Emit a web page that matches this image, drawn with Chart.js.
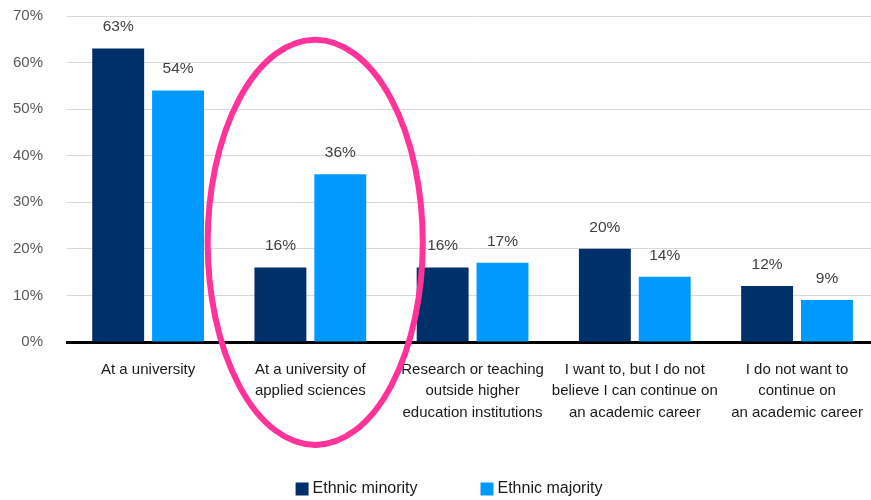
<!DOCTYPE html>
<html>
<head>
<meta charset="utf-8">
<script src="https://cdn.jsdelivr.net/npm/chart.js@4/dist/chart.umd.min.js"></script>
<style>
  html, body { margin: 0; padding: 0; background: #ffffff; overflow: hidden; }
  #wrap { width: 880px; height: 500px; }
</style>
</head>
<body>
<div id="wrap"><canvas id="chart" width="880" height="500"></canvas></div>
<script>
// Career plans after the doctorate, by ethnic background (% of respondents)
const categories = [
  ["At a university"],
  ["At a university of", "applied sciences"],
  ["Research or teaching", "outside higher", "education institutions"],
  ["I want to, but I do not", "believe I can continue on", "an academic career"],
  ["I do not want to", "continue on", "an academic career"]
];
const ethnicMinority = [63, 16, 16, 20, 12];
const ethnicMajority = [54, 36, 17, 14, 9];
const seriesNames = ["Ethnic minority", "Ethnic majority"];
const yTicks = [0, 10, 20, 30, 40, 50, 60, 70];

// highlighted group: category index, value range and half-width in category units
const highlight = { index: 1, shift: 0.03, halfWidth: 0.663, from: -22.1, to: 64.9 };

const FONT = "'Liberation Sans', Arial, sans-serif";

const valueLabels = {
  id: 'valueLabels',
  afterDatasetsDraw(chart) {
    const ctx = chart.ctx;
    ctx.save();
    ctx.font = '15.5px ' + FONT;
    ctx.fillStyle = '#404040';
    ctx.textAlign = 'center';
    ctx.textBaseline = 'middle';
    chart.data.datasets.forEach((ds, di) => {
      const meta = chart.getDatasetMeta(di);
      meta.data.forEach((bar, i) => {
        ctx.fillText(ds.data[i] + '%', bar.x, bar.y - 21.5);
      });
    });
    ctx.restore();
  }
};

// legend row under the axis labels, built from the datasets
const bottomLegend = {
  id: 'bottomLegend',
  afterDraw(chart) {
    const ctx = chart.ctx;
    const box = 13, textGap = 4, itemGap = 63;
    ctx.save();
    ctx.font = '16px ' + FONT;
    ctx.textBaseline = 'middle';
    ctx.textAlign = 'left';
    const items = chart.data.datasets.map(ds => ({
      text: ds.label, color: ds.backgroundColor,
      w: box + textGap + ctx.measureText(ds.label).width
    }));
    const total = items.reduce((s, it) => s + it.w, 0) + itemGap * (items.length - 1);
    let x = 449 - total / 2;
    const y = 489;
    items.forEach(it => {
      ctx.fillStyle = it.color;
      ctx.fillRect(x, y - box / 2, box, box);
      ctx.fillStyle = '#1a1a1a';
      ctx.fillText(it.text, x + box + textGap, y);
      x += it.w + itemGap;
    });
    ctx.restore();
  }
};

const highlightRing = {
  id: 'highlightRing',
  afterDraw(chart) {
    const xs = chart.scales.x, ys = chart.scales.y;
    const step = xs.getPixelForValue(1) - xs.getPixelForValue(0);
    const cx = xs.getPixelForValue(highlight.index) + highlight.shift * step;
    const rx = highlight.halfWidth * step;
    const top = ys.getPixelForValue(highlight.to);
    const bottom = ys.getPixelForValue(highlight.from);
    const ctx = chart.ctx;
    ctx.save();
    ctx.beginPath();
    ctx.ellipse(cx, (top + bottom) / 2, rx, (bottom - top) / 2, 0, 0, Math.PI * 2);
    ctx.strokeStyle = '#FF3399';
    ctx.lineWidth = 6;
    ctx.stroke();
    ctx.restore();
  }
};

new Chart(document.getElementById('chart'), {
  type: 'bar',
  data: {
    labels: categories,
    datasets: [
      { label: seriesNames[0], data: ethnicMinority, backgroundColor: '#00306A', borderWidth: 0 },
      { label: seriesNames[1], data: ethnicMajority, backgroundColor: '#0099FF', borderWidth: 0 }
    ]
  },
  options: {
    responsive: false,
    animation: false,
    devicePixelRatio: 1,
    layout: { padding: { top: 16, right: 1, left: 0, bottom: 79 } },
    datasets: { bar: { categoryPercentage: 0.738, barPercentage: 0.867 } },
    scales: {
      x: {
        grid: { display: false, drawTicks: false },
        border: { display: true, color: '#000000', width: 3 },
        ticks: {
          color: '#1a1a1a',
          font: { family: FONT, size: 15, lineHeight: 1.43 },
          padding: 17,
          maxRotation: 0,
          minRotation: 0,
          autoSkip: false
        },
        afterFit(scale) { scale.height = 79; }
      },
      y: {
        min: 0,
        max: 70,
        afterBuildTicks(scale) { scale.ticks = yTicks.map(v => ({ value: v })); },
        grid: {
          drawTicks: false,
          color: (c) => (c.tick && c.tick.value === 0) ? 'rgba(0,0,0,0)' : '#d9d9d9',
          lineWidth: 1
        },
        border: { display: false },
        ticks: {
          color: '#595959',
          font: { family: FONT, size: 15 },
          padding: 24,
          callback: (v) => v + '%'
        },
        afterFit(scale) {
          scale.width = 67;
          scale.paddingTop = 0;
          scale.paddingBottom = 0;
        }
      }
    },
    plugins: {
      legend: { display: false },
      tooltip: { enabled: false }
    }
  },
  plugins: [valueLabels, bottomLegend, highlightRing]
});
</script>
</body>
</html>
